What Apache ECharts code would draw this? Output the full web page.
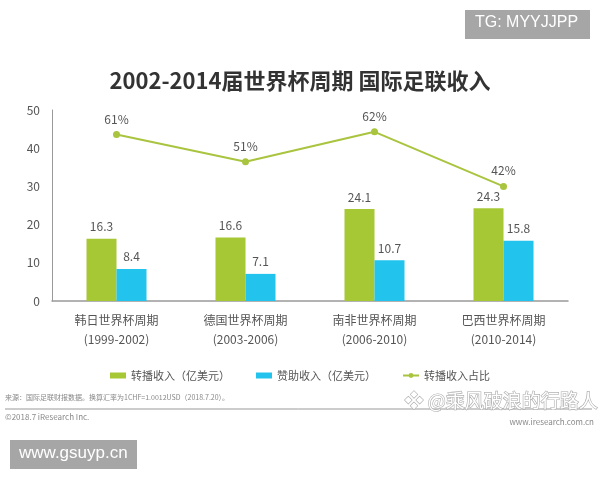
<!DOCTYPE html>
<html><head><meta charset="utf-8">
<script src="https://cdn.jsdelivr.net/npm/echarts@6/dist/echarts.min.js"></script>
<style>html,body{margin:0;padding:0;background:#fff}#c{width:600px;height:480px}</style>
</head><body><div id="c"></div>
<script>
const categories = ['韩日世界杯周期\n(1999-2002)', '德国世界杯周期\n(2003-2006)', '南非世界杯周期\n(2006-2010)', '巴西世界杯周期\n(2010-2014)'];
const broadcast = [16.3, 16.6, 24.1, 24.3];
const sponsor = [8.4, 7.1, 10.7, 15.8];
const broadcastShare = [61, 51, 62, 42];
const yTicks = [0, 10, 20, 30, 40, 50];
const seriesNames = ['转播收入（亿美元）', '赞助收入（亿美元）', '转播收入占比'];

const FONT = '"Noto Sans CJK SC","Noto Sans",sans-serif';
const GREEN = '#a6c834', BLUE = '#22c4ee', LINE = '#a9c43e';
const chart = echarts.init(document.getElementById('c'), null, {renderer: 'canvas'});
chart.setOption({
  animation: false,
  textStyle: {fontFamily: FONT},
  title: {
    text: '2002-2014届世界杯周期 国际足联收入',
    left: 'center', top: 65,
    textStyle: {fontSize: 22, fontWeight: 'bold', color: '#333', fontFamily: FONT}
  },
  legend: {
    top: 365, left: 'center', itemGap: 26, itemWidth: 16, itemHeight: 6,
    textStyle: {fontSize: 11, color: '#555', fontFamily: FONT},
    data: [
      {name: seriesNames[0], icon: 'rect'},
      {name: seriesNames[1], icon: 'rect'},
      {name: seriesNames[2]}
    ]
  },
  grid: {left: 52, right: 32, top: 110, bottom: 179, containLabel: false},
  xAxis: {
    type: 'category', data: categories,
    axisLine: {lineStyle: {color: '#999', width: 1.5}},
    axisTick: {show: false},
    axisLabel: {color: '#555', fontSize: 12, lineHeight: 19, margin: 10, fontFamily: FONT}
  },
  yAxis: [{
    type: 'value', min: yTicks[0], max: yTicks[yTicks.length - 1], interval: 10,
    axisLine: {show: true, lineStyle: {color: '#999', width: 1}},
    axisTick: {show: false},
    splitLine: {show: false},
    axisLabel: {color: '#555', fontSize: 12, margin: 12}
  }, {
    type: 'value', min: 0, max: 70, show: false, splitLine: {show: false}
  }],
  series: [{
    name: seriesNames[0], type: 'bar', data: broadcast, barWidth: 30, barGap: '0%',
    itemStyle: {color: GREEN},
    label: {show: true, position: 'top', distance: 6, color: '#555', fontSize: 12}
  }, {
    name: seriesNames[1], type: 'bar', data: sponsor, barWidth: 30,
    itemStyle: {color: BLUE},
    label: {show: true, position: 'top', distance: 6, color: '#555', fontSize: 12}
  }, {
    name: seriesNames[2], type: 'line', yAxisIndex: 1, data: broadcastShare,
    symbol: 'circle', symbolSize: 7,
    lineStyle: {color: LINE, width: 2}, itemStyle: {color: LINE},
    label: {show: true, position: 'top', distance: 6, color: '#555', fontSize: 12, formatter: '{c}%'}
  }],
  graphic: [
    {type: 'rect', left: 465, top: 10, shape: {width: 125, height: 29}, style: {fill: '#a6a6a6'}},
    {type: 'text', left: 475, top: 15, style: {text: 'TG: MYYJJPP', fill: '#fff', font: '16px "Liberation Sans",Arial,sans-serif'}},
    {type: 'text', left: 5, top: 394, style: {text: '来源：国际足联财报数据。换算汇率为1CHF=1.0012USD（2018.7.20）。', fill: '#888', font: '7px ' + FONT}},
    {type: 'line', shape: {x1: 5, y1: 409, x2: 592, y2: 409}, style: {stroke: '#999', lineWidth: 1}},
    {type: 'text', left: 5, top: 413, style: {text: '©2018.7 iResearch Inc.', fill: '#888', font: '8px ' + FONT}},
    {type: 'text', right: 6, top: 418, style: {text: 'www.iresearch.com.cn', fill: '#888', font: '8px ' + FONT}},
    {type: 'text', left: 404, top: 391, style: {text: '❖ @乘风破浪的行路人', fill: '#fff', stroke: '#aaa', lineWidth: 1.2, font: '19px ' + FONT}},
    {type: 'rect', left: 10, top: 440, shape: {width: 127, height: 29}, style: {fill: '#a6a6a6'}},
    {type: 'text', left: 19, top: 445, style: {text: 'www.gsuyp.cn', fill: '#fff', font: '17px "Liberation Sans",Arial,sans-serif'}}
  ]
});
</script></body></html>
